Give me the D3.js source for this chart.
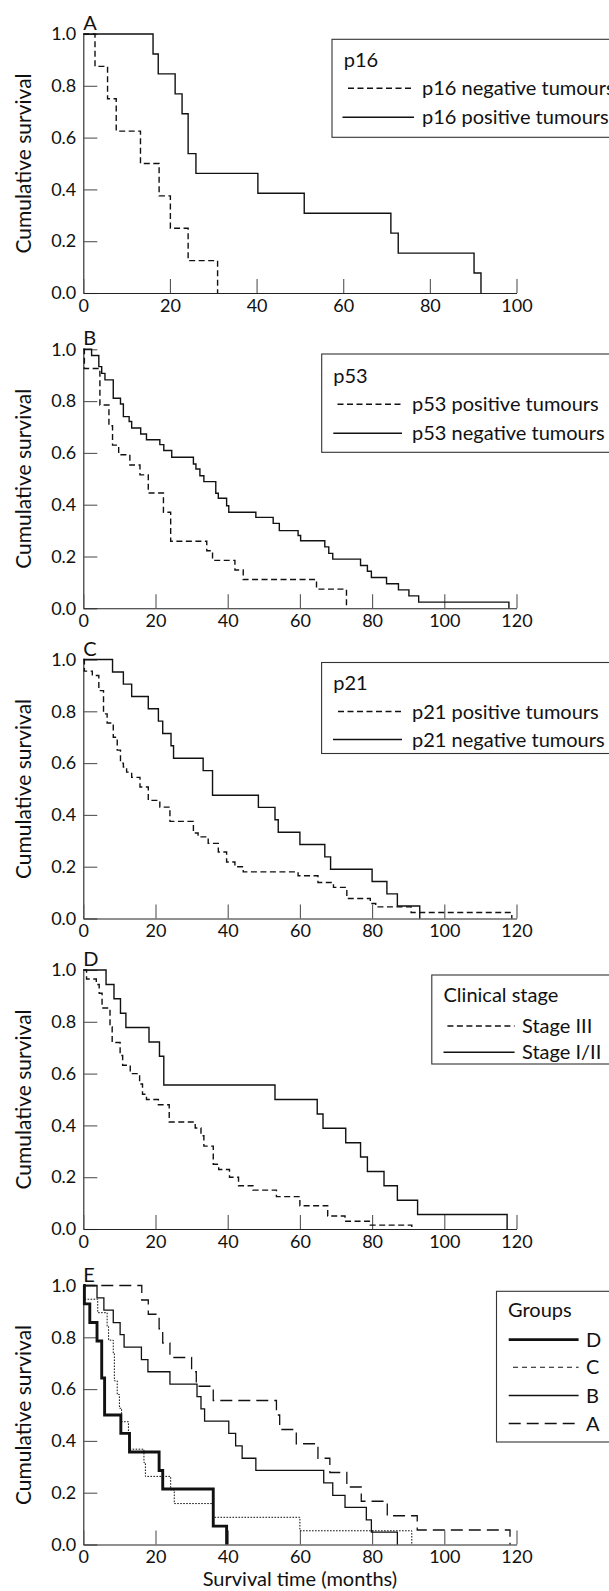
<!DOCTYPE html>
<html><head><meta charset="utf-8">
<script src="https://cdn.jsdelivr.net/npm/d3@7"></script>
<style>
body{margin:0;background:#fff}
svg text{font-family:Lato,"Open Sans",sans-serif;fill:#111}
</style>
</head><body>
<svg id="chart" width="609" height="1591"></svg>
<script>
// ---------- DATA: [time (months), cumulative survival] ----------
const p16Negative = [[0,1],[2.7,0.875],[5.6,0.75],[7.6,0.625],[13.2,0.5],[17.5,0.375],[20.1,0.25],[24.2,0.125],[31,0]];
const p16Positive = [[0,1],[16.1,0.923],[17.3,0.846],[21.2,0.769],[22.8,0.692],[24.2,0.538],[26,0.462],[40.3,0.385],[51,0.308],[71,0.231],[72.7,0.154],[90.2,0.077],[91.8,0]];

const p53Positive = [[0,1],[0.3,0.926],[4.6,0.785],[7.1,0.705],[8.1,0.63],[9.8,0.593],[12.9,0.553],[15.7,0.515],[18,0.445],[22.2,0.371],[24.2,0.259],[34.2,0.222],[35.8,0.185],[42,0.148],[44.3,0.111],[64.6,0.074],[72.9,0]];
const p53Negative = [[0,1],[2.3,0.976],[4.3,0.933],[5.1,0.907],[6,0.882],[8.3,0.811],[10.3,0.789],[11.1,0.74],[12.7,0.721],[13.4,0.696],[15.9,0.673],[17.5,0.651],[21.2,0.632],[22.3,0.609],[24.5,0.583],[30.5,0.557],[31.2,0.538],[32.3,0.512],[33.4,0.489],[36.7,0.444],[37.4,0.425],[39.7,0.396],[40.3,0.371],[47.8,0.351],[52.6,0.328],[54.3,0.3],[59.5,0.281],[60.2,0.261],[66.9,0.237],[68,0.212],[69.1,0.19],[76.8,0.165],[78.7,0.143],[79.8,0.119],[84,0.095],[87.3,0.071],[90.2,0.048],[92.9,0.024],[117.9,0]];

const p21Positive = [[0,1],[0.3,0.955],[2.5,0.938],[4.3,0.88],[5.6,0.79],[6.6,0.755],[8.3,0.7],[9.4,0.65],[10.3,0.6],[11.1,0.585],[12,0.565],[13.4,0.545],[15.7,0.508],[18,0.456],[21.2,0.43],[24,0.375],[30.5,0.33],[31.8,0.315],[34.6,0.29],[37.4,0.257],[39.7,0.218],[42,0.2],[44.3,0.18],[59.5,0.165],[65,0.139],[69.3,0.12],[73,0.077],[79.5,0.058],[81,0.045],[90.8,0.023],[118.7,0]];
const p21Negative = [[0,1],[8.1,0.952],[11.1,0.905],[13.4,0.857],[18,0.81],[20.8,0.762],[22,0.714],[24.3,0.667],[25,0.619],[33.2,0.571],[35.8,0.476],[48.5,0.429],[53.1,0.381],[54,0.333],[60,0.286],[66.9,0.238],[68.5,0.19],[80,0.143],[84.1,0.095],[87,0.048],[93.2,0]];

const stageIII = [[0,1],[0.9,0.965],[3.6,0.944],[4.4,0.91],[5.2,0.853],[7.4,0.78],[8,0.72],[10.2,0.67],[10.9,0.632],[13,0.6],[15.6,0.56],[16.4,0.52],[17.5,0.5],[20.8,0.48],[23.8,0.413],[31,0.39],[32.6,0.36],[33.4,0.32],[36,0.25],[37.5,0.23],[40.5,0.2],[43,0.167],[47,0.15],[53.5,0.125],[60,0.09],[67.7,0.05],[72.5,0.03],[79.5,0.015],[91,0]];
const stageI_II = [[0,1],[6.3,0.944],[8.5,0.889],[10.3,0.833],[11.8,0.778],[18.2,0.722],[21.1,0.667],[22.3,0.556],[53.1,0.5],[64.8,0.444],[66.4,0.389],[72.7,0.333],[76.8,0.278],[78.7,0.222],[83.3,0.167],[87,0.111],[92.6,0.056],[117.4,0]];

const groupD = [[0,1],[0.3,0.929],[1.8,0.857],[3.8,0.786],[5.1,0.643],[5.9,0.5],[10.4,0.429],[12.8,0.357],[21,0.286],[22,0.214],[36,0.071],[39.7,0]];
const groupC = [[0,1],[0.4,0.947],[4,0.895],[6.6,0.842],[7,0.789],[8.3,0.737],[8.6,0.632],[9.4,0.579],[10,0.526],[10.6,0.474],[12.5,0.421],[12.9,0.368],[16.8,0.316],[17.2,0.263],[24.2,0.211],[25.2,0.158],[36,0.105],[60,0.053],[91,0]];
const groupB = [[0,1],[3.8,0.952],[5.7,0.905],[8.3,0.857],[10.2,0.81],[11.3,0.762],[16.1,0.714],[17.9,0.667],[24,0.619],[31.5,0.571],[32.6,0.524],[33.6,0.476],[40.3,0.429],[42.2,0.381],[44,0.333],[47.8,0.286],[66.6,0.238],[69.1,0.19],[72.5,0.143],[78.4,0.095],[79.8,0.048],[87,0]];
const groupA = [[0,1],[16.2,0.944],[18,0.889],[21,0.833],[22,0.778],[24,0.722],[30,0.667],[31.3,0.611],[36,0.556],[53.5,0.5],[54.4,0.444],[59,0.389],[65,0.333],[68.3,0.278],[73,0.222],[77,0.167],[84.2,0.111],[92.5,0.056],[118.2,0]];

const xTicks100 = [0,20,40,60,80,100];
const xTicks120 = [0,20,40,60,80,100,120];
const yTicks = [0,0.2,0.4,0.6,0.8,1.0];

const panelLetters = ["A","B","C","D","E"];
const legendTitles = ["p16","p53","p21","Clinical stage","Groups"];
const legendLabels = [
  ["p16 negative tumours","p16 positive tumours"],
  ["p53 positive tumours","p53 negative tumours"],
  ["p21 positive tumours","p21 negative tumours"],
  ["Stage III","Stage I/II"],
  ["D","C","B","A"]
];
const yTitle = "Cumulative survival";
const xTitle = "Survival time (months)";

// ---------- STYLES ----------
const ST = {
  dash:   {w:1.4, dash:"6,3.5"},
  solid:  {w:1.4, dash:null},
  thick:  {w:2.9, dash:null},
  dotted: {w:1.0, dash:"1.6,1.4"},
  thin:   {w:1.3, dash:null},
  long:   {w:1.3, dash:"12,6"}
};
const legendStyle = {dotted:{w:1.1, dash:"5,4"}};

// ---------- LAYOUT ----------
const X0 = 83.3, X1 = 516.5, H = 259;
const panels = [
  {top:34,   xmax:100, xticks:xTicks100, series:[p16Negative,p16Positive], styles:["dash","solid"],
   lg:{x:332, y:39.3, h:98, tx:343.7, ty:66.7, rows:[88.3,117.3], lx1:[348,342.5], lx2:414, textX:422}},
  {top:349.3,xmax:120, xticks:xTicks120, series:[p53Positive,p53Negative], styles:["dash","solid"],
   lg:{x:321.7, y:354, h:98.3, tx:333.3, ty:382.7, rows:[404.3,433.3], lx1:[337.5,333.3], lx2:402, textX:412}},
  {top:659.5,xmax:120, xticks:xTicks120, series:[p21Positive,p21Negative], styles:["dash","solid"],
   lg:{x:321.6, y:662.5, h:91, tx:333.3, ty:689.5, rows:[711.5,739.5], lx1:[338,333], lx2:402, textX:412}},
  {top:970,  xmax:120, xticks:xTicks120, series:[stageIII,stageI_II], styles:["dash","solid"],
   lg:{x:431.8, y:975, h:89, tx:443.5, ty:1001.7, rows:[1026,1052.3], lx1:[447.4,443.5], lx2:514.6, textX:522}},
  {top:1285.5,xmax:120, xticks:xTicks120, series:[groupD,groupC,groupB,groupA], styles:["thick","dotted","thin","long"],
   lg:{x:496.5, y:1291.3, h:150.7, tx:508, ty:1317, rows:[1339.6,1367.3,1395.5,1423.5], lx1:[508.7,513,508.7,508.7], lx2:578.6, textX:586}}
];

const svg = d3.select("#chart");

panels.forEach((p, i) => {
  const x = d3.scaleLinear().domain([0, p.xmax]).range([X0, X1]);
  const y = d3.scaleLinear().domain([0, 1]).range([p.top + H, p.top]);
  const g = svg.append("g");

  const ya = g.append("g").attr("transform", `translate(${X0},0)`)
    .call(d3.axisLeft(y).tickValues(yTicks).tickFormat(d3.format(".1f"))
      .tickSizeInner(-14).tickSizeOuter(0).tickPadding(7));
  const xa = g.append("g").attr("transform", `translate(0,${p.top + H})`)
    .call(d3.axisBottom(x).tickValues(p.xticks).tickFormat(d3.format("d"))
      .tickSizeInner(-14).tickSizeOuter(0).tickPadding(6));
  [ya, xa].forEach(a => {
    a.attr("font-family", "Lato, 'Open Sans', sans-serif").attr("font-size", 18);
    a.select(".domain").attr("stroke", "#222").attr("stroke-width", 1.1);
    a.selectAll(".tick line").attr("stroke", "#555").attr("stroke-width", 1.1);
    a.selectAll(".tick text").attr("fill", "#111");
  });

  g.append("text")
    .attr("transform", `translate(31,${p.top + H / 2}) rotate(-90)`)
    .attr("text-anchor", "middle").attr("font-size", 21).text(yTitle);

  g.append("text").attr("x", X0).attr("y", p.top - 4)
    .attr("font-size", 20).text(panelLetters[i]);

  const line = d3.line().x(d => x(d[0])).y(d => y(d[1])).curve(d3.curveStepAfter);
  p.series.forEach((s, k) => {
    const st = ST[p.styles[k]];
    g.append("path").datum(s).attr("d", line)
      .attr("fill", "none").attr("stroke", "#111")
      .attr("stroke-width", st.w)
      .attr("stroke-dasharray", st.dash);
  });

  const L = p.lg;
  g.append("rect").attr("x", L.x).attr("y", L.y).attr("width", 620 - L.x).attr("height", L.h)
    .attr("fill", "#fff").attr("stroke", "#333").attr("stroke-width", 1.1);
  g.append("text").attr("x", L.tx).attr("y", L.ty).attr("font-size", 20).text(legendTitles[i]);
  L.rows.forEach((ry, k) => {
    const key = p.styles[k];
    const st = legendStyle[key] || ST[key];
    g.append("line").attr("x1", L.lx1[k]).attr("x2", L.lx2).attr("y1", ry).attr("y2", ry)
      .attr("stroke", "#111").attr("stroke-width", st.w).attr("stroke-dasharray", st.dash);
    g.append("text").attr("x", L.textX).attr("y", ry + 7).attr("font-size", 20).text(legendLabels[i][k]);
  });

  if (i === panels.length - 1) {
    g.append("text").attr("x", (X0 + X1) / 2).attr("y", 1586)
      .attr("text-anchor", "middle").attr("font-size", 20).text(xTitle);
  }
});
</script>
</body></html>
